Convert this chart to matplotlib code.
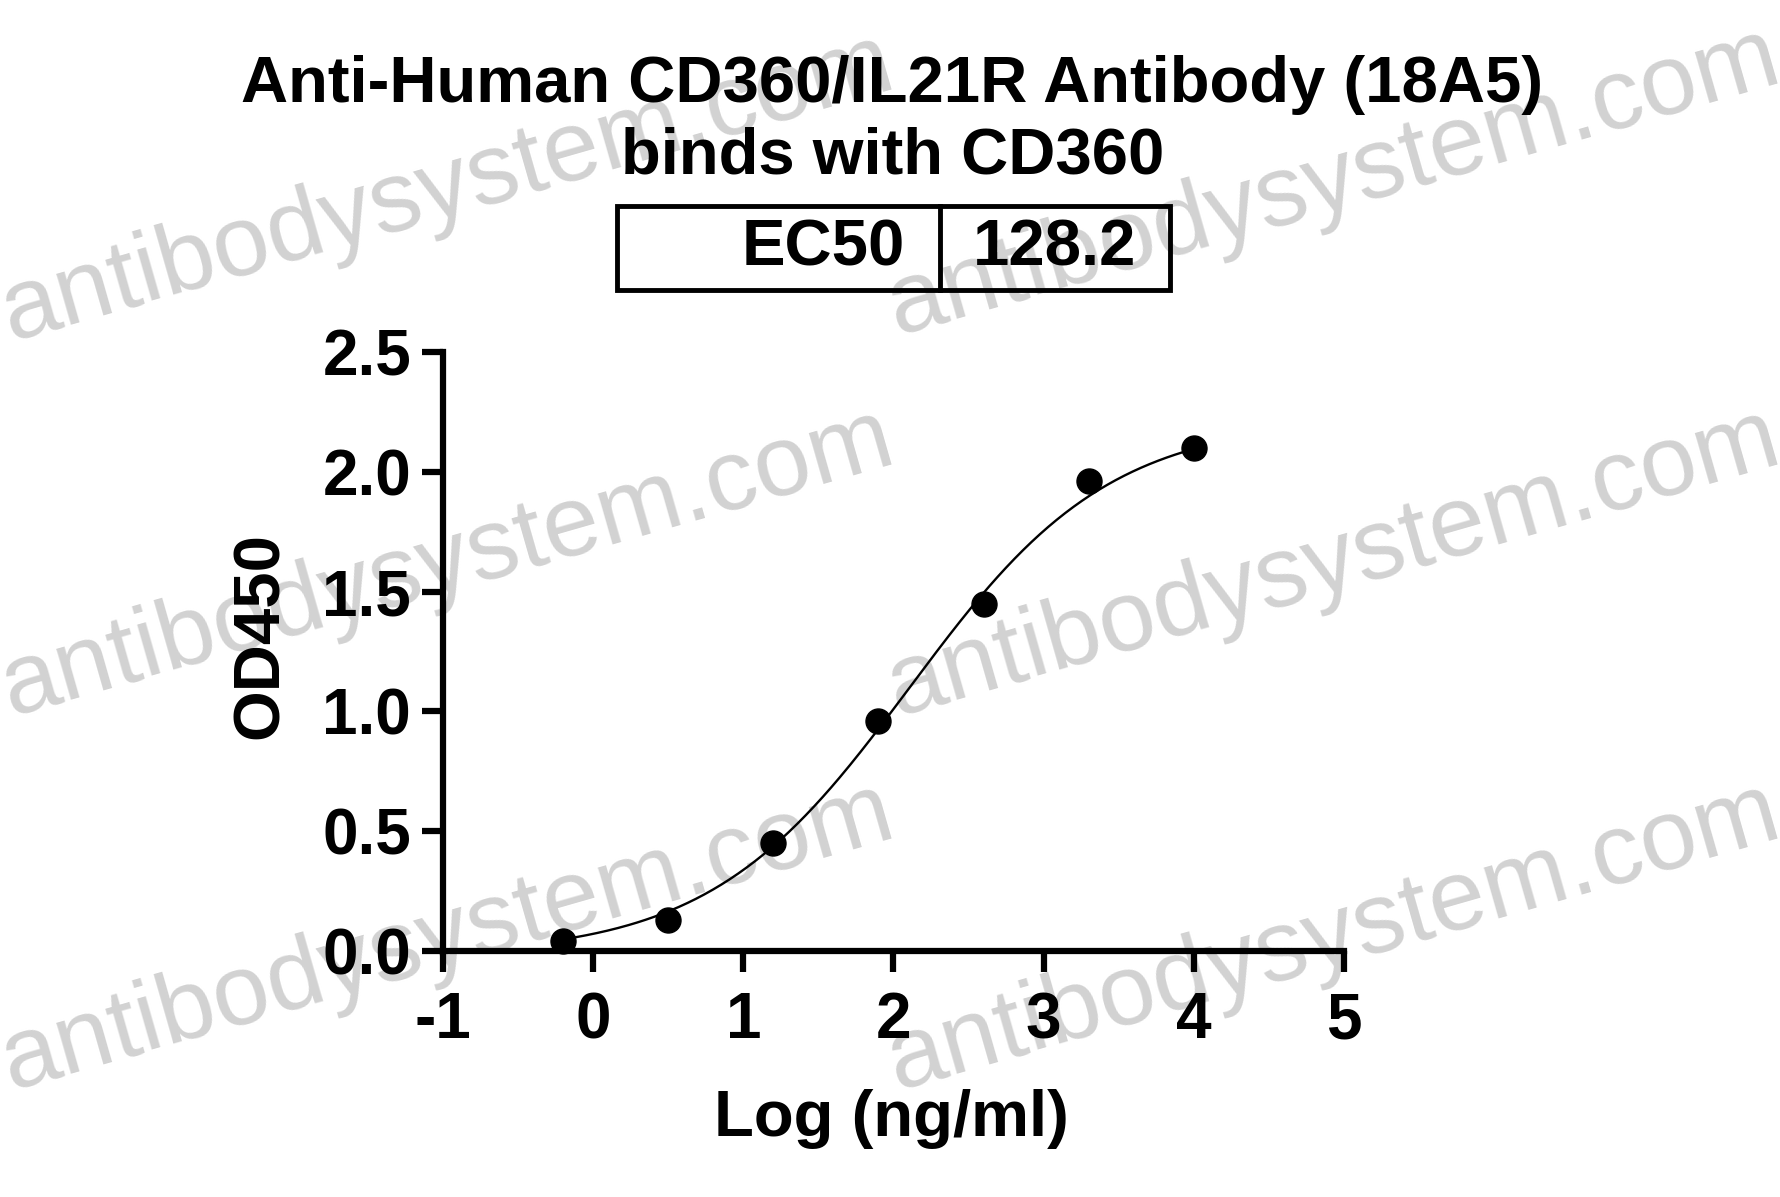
import matplotlib

matplotlib.use("Agg")

import matplotlib.pyplot as plt
import numpy as np

plt.rcParams["font.family"] = ["Liberation Sans", "DejaVu Sans"]
plt.rcParams["font.weight"] = "bold"
plt.rcParams["axes.labelweight"] = "bold"

# measured points (log ng/ml vs OD450)
LOG_CONC = [-0.2, 0.5, 1.2, 1.9, 2.6, 3.3, 4.0]
OD450 = [0.04, 0.13, 0.45, 0.96, 1.45, 1.96, 2.10]

# 4PL fit parameters
FIT_BOTTOM = -0.02
FIT_TOP = 2.22
FIT_HILL = 0.65
EC50 = 128.2

X_TICKS = [-1, 0, 1, 2, 3, 4, 5]
Y_TICKS = [0.0, 0.5, 1.0, 1.5, 2.0, 2.5]

TITLE_LINES = ["Anti-Human CD360/IL21R Antibody (18A5)", "binds with CD360"]
WATERMARK = "antibodysystem.com"
# watermark anchors in pixels (x from left, y from top)
WM_X = [11, 11, 11, 897, 897, 897]
WM_Y = [341, 716, 1090, 335, 716, 1090]

W, H = 1781, 1197
FS = 47
fig = plt.figure(figsize=(W / 100, H / 100), dpi=100)

for wx, wy in zip(WM_X, WM_Y):
    fig.text(wx / W, 1 - wy / H, WATERMARK, fontsize=73, fontweight="normal",
             color="#d2d2d2", rotation=16, rotation_mode="anchor",
             ha="left", va="baseline", zorder=-1)

ax = fig.add_axes([443 / W, 1 - 951 / H, (1344 - 443) / W, (951 - 352) / H])
ax.patch.set_alpha(0)

log_ec50 = np.log10(EC50)
xs = np.linspace(LOG_CONC[0], LOG_CONC[-1], 300)
ys = FIT_BOTTOM + (FIT_TOP - FIT_BOTTOM) / (1 + 10 ** ((log_ec50 - xs) * FIT_HILL))
ax.plot(xs, ys, color="black", linewidth=1.7, zorder=3)
ax.plot(LOG_CONC, OD450, "o", color="black", markersize=18, zorder=4, clip_on=False)

ax.set_xlim(-1, 5)
ax.set_ylim(0, 2.5)
ax.set_xticks(X_TICKS)
ax.set_yticks(Y_TICKS)
ax.set_xticklabels([str(t) for t in X_TICKS])
ax.set_yticklabels([f"{t:.1f}" for t in Y_TICKS])

for side in ("top", "right"):
    ax.spines[side].set_visible(False)
for side in ("left", "bottom"):
    ax.spines[side].set_linewidth(4.5)
ax.tick_params(axis="both", width=4.5, length=15, labelsize=46)
ax.tick_params(axis="x", pad=14)
ax.tick_params(axis="y", pad=8)

ax.set_xlabel("Log (ng/ml)", fontsize=FS, va="center")
ax.xaxis.set_label_coords(0.498, -0.28)
ax.set_ylabel("OD450", fontsize=FS, va="center")
ax.yaxis.set_label_coords(-0.202, 0.526)

fig.text(0.501, 1 - 85 / H, TITLE_LINES[0], fontsize=FS, ha="center", va="center", zorder=5)
fig.text(0.501, 1 - 157 / H, TITLE_LINES[1], fontsize=FS, ha="center", va="center", zorder=5)

# EC50 table
x0, x1, x2 = 617 / W, 940 / W, 1170 / W
y0, y1 = 1 - 290 / H, 1 - 206 / H
fig.add_artist(plt.Rectangle((x0, y0), x2 - x0, y1 - y0, transform=fig.transFigure,
                             fill=False, edgecolor="black", linewidth=3.5))
fig.add_artist(plt.Line2D([x1, x1], [y0, y1], transform=fig.transFigure,
                          color="black", linewidth=3.5))
fig.text(x1 - 35 / W, (y0 + y1) / 2, "EC50", fontsize=FS, ha="right", va="center")
fig.text(x2 - 34 / W, (y0 + y1) / 2, f"{EC50:.1f}", fontsize=FS, ha="right", va="center")

fig.savefig("out.png", dpi=100)
